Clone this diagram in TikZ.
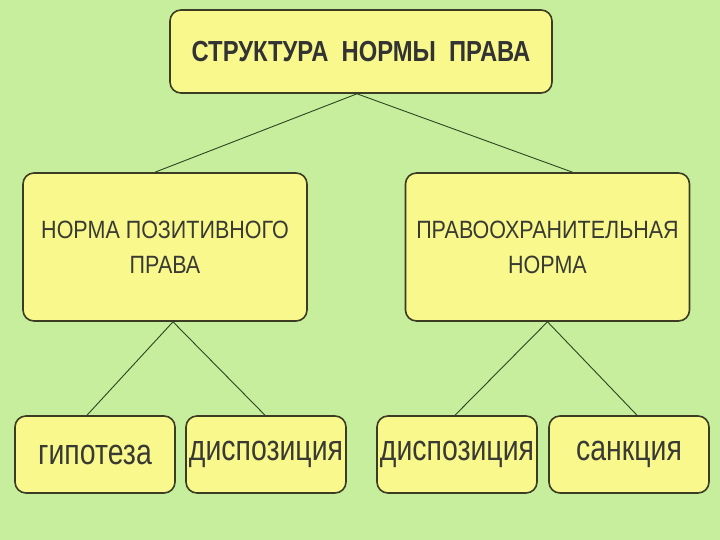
\documentclass[tikz,border=0pt]{standalone}
\usepackage{fontspec}
\setmainfont{Liberation Sans}
\newfontfamily\narrowfont[FakeStretch=0.82]{Liberation Sans}
\newfontfamily\midfont[FakeStretch=0.86]{Liberation Sans}
\newfontfamily\slimfont[FakeStretch=0.79]{Liberation Sans}
\usetikzlibrary{positioning}
\definecolor{bg}{HTML}{C6EE9C}
\definecolor{boxfill}{HTML}{F8F88C}
\definecolor{boxline}{HTML}{3C3C24}
\definecolor{linkcol}{HTML}{2E4420}
\definecolor{ink}{HTML}{3A3A34}

\begin{document}
\begin{tikzpicture}[x=1pt,y=-1pt,
    box/.style={draw=boxline,line width=1.6pt,fill=boxfill,rounded corners=11pt,
      text=ink,align=center,inner sep=0pt},
    midbox/.style={box,minimum width=284pt,minimum height=148pt,
      font=\midfont\fontsize{25}{35}\selectfont},
    leafbox/.style={box,minimum width=160pt,minimum height=77pt,
      font=\slimfont\fontsize{36}{40}\selectfont},
    link/.style={draw=linkcol,line width=0.9pt}]
  \fill[bg] (0,0) rectangle (720,540);
  % top level
  \node[box,minimum width=382pt,minimum height=83pt,text=black!80,
    font=\narrowfont\bfseries\fontsize{29}{32}\selectfont] (root) at (361,51.5)
    {СТРУКТУРА\ \ НОРМЫ\ \ ПРАВА};
  % two kinds of norm
  \node[midbox] (positive) at (165,247) {НОРМА ПОЗИТИВНОГО\\ПРАВА};
  \node[midbox] (protect) at (547.5,247) {ПРАВООХРАНИТЕЛЬНАЯ\\НОРМА};
  % elements
  \node[leafbox] (hyp) at (95,454.5) {гипотеза};
  \node[leafbox] (disp) at (266,454.5) {диспозиция};
  \node[leafbox] (disp2) at (457,454.5) {диспозиция};
  \node[leafbox] (sanc) at (629,454.5) {санкция};
  \draw[link] ([xshift=-4pt]root.south) -- ([xshift=-10pt]positive.north);
  \draw[link] ([xshift=-4pt]root.south) -- ([xshift=25pt]protect.north);
  \draw[link] ([xshift=8pt]positive.south) -- ([xshift=-8pt]hyp.north);
  \draw[link] ([xshift=8pt]positive.south) -- ([xshift=-1pt]disp.north);
  \draw[link] (protect.south) -- ([xshift=-2pt]disp2.north);
  \draw[link] (protect.south) -- ([xshift=8pt]sanc.north);
\end{tikzpicture}
\end{document}
